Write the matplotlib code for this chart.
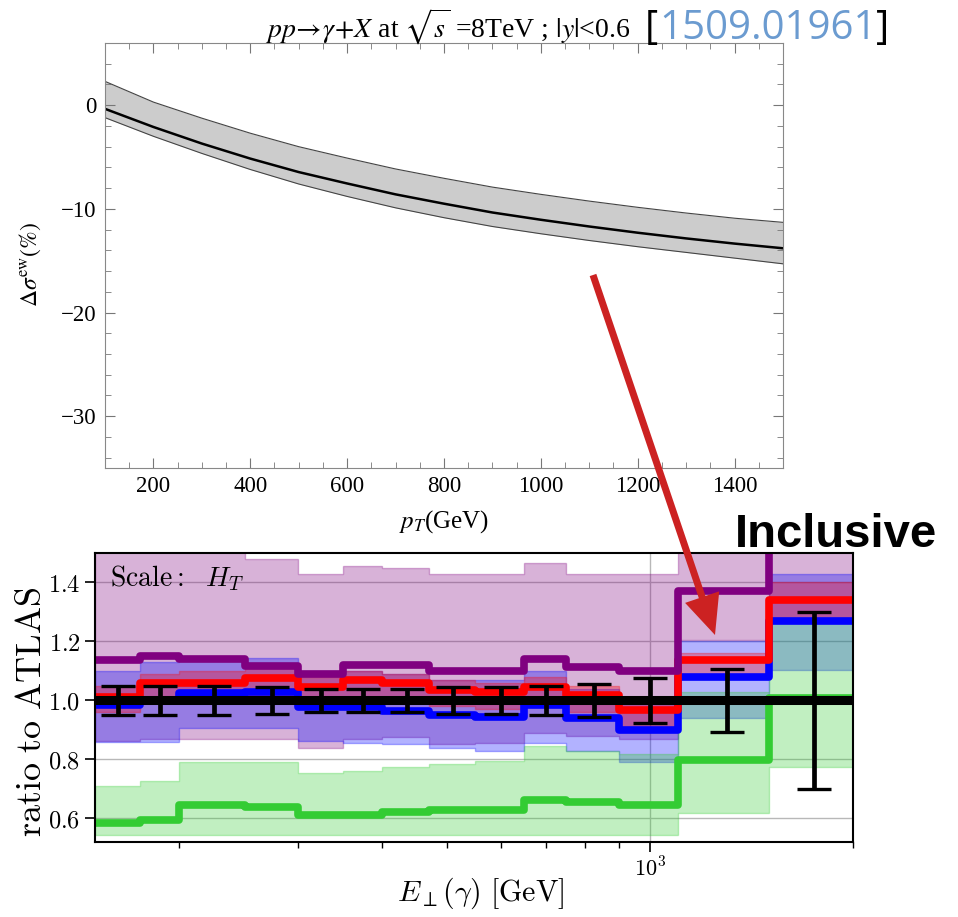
# EW correction to pp -> gamma + X (top) and ratio to ATLAS data (bottom)
import numpy as np
import matplotlib
matplotlib.use('Agg')
import matplotlib.pyplot as plt
from matplotlib.patches import FancyArrow
from matplotlib.ticker import MultipleLocator, FixedLocator, NullFormatter, FixedFormatter

plt.rcParams['mathtext.fontset'] = 'cm'

# ---- top panel: Delta sigma^ew (%) vs pT
pt = [100, 200, 300, 400, 500, 600, 700, 800, 900, 1000, 1100, 1200, 1300, 1400, 1500]
dsig = [-0.35, -2.1, -3.7, -5.15, -6.45, -7.55, -8.6, -9.5, -10.35, -11.05, -11.7, -12.3, -12.85, -13.35, -13.8]
dsig_hi = [2.3, 0.3, -1.25, -2.7, -4.0, -5.1, -6.15, -7.05, -7.9, -8.6, -9.25, -9.85, -10.4, -10.9, -11.3]
dsig_lo = [-1.2, -3.0, -4.65, -6.2, -7.6, -8.8, -9.9, -10.85, -11.7, -12.4, -13.05, -13.65, -14.2, -14.75, -15.3]

# ---- bottom panel: ratio to ATLAS in E_T(gamma) bins
edges = [150, 175, 200, 250, 300, 350, 400, 470, 550, 650, 750, 900, 1100, 1500, 2000]
purple = [1.137, 1.15, 1.14, 1.116, 1.09, 1.12, 1.12, 1.10, 1.10, 1.14, 1.113, 1.10, 1.372, 1.62]
purple_hi = [1.6, 1.6, 1.6, 1.48, 1.43, 1.455, 1.45, 1.43, 1.43, 1.465, 1.43, 1.427, 1.6, 1.6]
purple_lo = [0.863, 0.87, 0.87, 0.87, 0.84, 0.87, 0.877, 0.853, 0.857, 0.89, 0.88, 0.87, 1.205, 1.28]
red = [1.01, 1.058, 1.06, 1.075, 1.045, 1.068, 1.058, 1.035, 1.028, 1.045, 1.017, 0.966, 1.138, 1.342]
red_hi = [1.05, 1.09, 1.10, 1.11, 1.08, 1.10, 1.09, 1.07, 1.06, 1.08, 1.05, 1.00, 1.16, 1.40]
red_lo = [0.96, 1.00, 1.01, 1.02, 0.99, 1.01, 1.00, 0.98, 0.97, 0.99, 0.96, 0.91, 1.08, 1.27]
blue = [0.983, 1.0, 1.024, 1.028, 0.977, 0.977, 0.965, 0.95, 0.945, 0.983, 0.94, 0.90, 1.079, 1.27]
blue_hi = [1.10, 1.13, 1.145, 1.145, 1.10, 1.10, 1.09, 1.07, 1.07, 1.10, 1.04, 0.99, 1.20, 1.43]
blue_lo = [0.86, 0.86, 0.905, 0.905, 0.863, 0.857, 0.853, 0.84, 0.83, 0.855, 0.83, 0.79, 0.94, 1.104]
green = [0.583, 0.596, 0.644, 0.637, 0.61, 0.613, 0.62, 0.627, 0.63, 0.664, 0.655, 0.645, 0.797, 1.007]
green_hi = [0.71, 0.727, 0.79, 0.79, 0.755, 0.76, 0.774, 0.785, 0.795, 0.846, 0.83, 0.82, 1.027, 1.27]
green_lo = [0.545, 0.545, 0.545, 0.545, 0.545, 0.545, 0.545, 0.545, 0.545, 0.545, 0.545, 0.545, 0.617, 0.775]
atlas_err = [0.05, 0.05, 0.05, 0.045, 0.04, 0.04, 0.04, 0.045, 0.045, 0.05, 0.057, 0.075, 0.108, 0.30]

ratio_ticks = [0.6, 0.8, 1.0, 1.2, 1.4]
ratio_labels = ['$0.6$', '$0.8$', '$1.0$', '$1.2$', '$1.4$']

fig = plt.figure(figsize=(9.58, 9.17), dpi=100)

# ---------------- top panel (Mathematica look)
ax1 = fig.add_axes([0.1096, 0.4896, 0.7077, 0.4635])
ax1.fill_between(pt, dsig_lo, dsig_hi, color='#cccccc', lw=0)
ax1.plot(pt, dsig_hi, color='#444444', lw=0.8)
ax1.plot(pt, dsig_lo, color='#444444', lw=0.8)
ax1.plot(pt, dsig, color='k', lw=1.8)
ax1.set_xlim(100, 1500)
ax1.set_ylim(-35, 6)
ax1.xaxis.set_major_locator(MultipleLocator(200))
ax1.xaxis.set_minor_locator(MultipleLocator(50))
ax1.yaxis.set_major_locator(MultipleLocator(10))
ax1.yaxis.set_minor_locator(MultipleLocator(2))
ax1.tick_params(which='both', direction='in', top=True, right=True, color='#777777', labelsize=16.5)
ax1.tick_params(which='major', length=7, pad=6)
ax1.tick_params(which='minor', length=4)
for lab in ax1.get_xticklabels() + ax1.get_yticklabels():
    lab.set_family('Liberation Serif')
for sp in ax1.spines.values():
    sp.set_color('#888888')
ax1.set_ylabel(r'$\Delta\sigma^{\mathrm{ew}}(\%)$', fontsize=17, math_fontfamily='stix')
ax1.yaxis.set_label_coords(-0.092, 0.48)
ax1.set_xlabel(r'$p_T$(GeV)', fontsize=18, family='Liberation Serif', math_fontfamily='stix')
ax1.xaxis.set_label_coords(0.5, -0.095)

# title and reference
fig.text(265 / 958, 1 - 38 / 917,
         r'$pp\!\rightarrow\!\gamma\!+\!X$ at $\sqrt{s}$ =8TeV ; $|y|$<0.6',
         fontsize=20, family='Liberation Serif', math_fontfamily='stix', va='baseline')
fig.text(645 / 958, 1 - 39 / 917, '[', fontsize=29, family='Open Sans', va='baseline')
fig.text(659 / 958, 1 - 39 / 917, '1509.01961', fontsize=29, family='Open Sans',
         color='#6b9bd0', va='baseline')
fig.text(876 / 958, 1 - 39 / 917, ']', fontsize=29, family='Open Sans', va='baseline')

# ---------------- bottom panel (ratio plot)
ax2 = fig.add_axes([0.0992, 0.0818, 0.7912, 0.3152])
ax2.set_xscale('log')
ax2.grid(True, which='major', color='#b8b8b8', lw=1.0)
ax2.set_axisbelow(True)

ax2.stairs(purple_hi, edges, baseline=purple_lo, fill=True, facecolor='purple',
           edgecolor='purple', alpha=0.3, lw=1)
ax2.stairs(blue_hi, edges, baseline=blue_lo, fill=True, facecolor='blue',
           edgecolor='blue', alpha=0.3, lw=1)
ax2.stairs(red_hi, edges, baseline=red_lo, fill=True, facecolor='red',
           edgecolor='red', alpha=0.3, lw=1)
ax2.stairs(green_hi, edges, baseline=green_lo, fill=True, facecolor='limegreen',
           edgecolor='limegreen', alpha=0.3, lw=1)

ax2.stairs(green, edges, baseline=None, color='#33cc33', lw=5.5, joinstyle='round')
ax2.stairs(blue, edges, baseline=None, color='blue', lw=5.5, joinstyle='round')
ax2.stairs(red, edges, baseline=None, color='red', lw=5.5, joinstyle='round')
ax2.stairs(purple, edges, baseline=None, color='purple', lw=5.5, joinstyle='round')

ax2.axhline(1.0, color='k', lw=6.5)
centers = 0.5 * (np.array(edges[:-1]) + np.array(edges[1:]))
ax2.errorbar(centers, np.ones(len(centers)), yerr=atlas_err, fmt='none', ecolor='k',
             elinewidth=3.4, capsize=12, capthick=2.4)

ax2.set_xlim(150, 2000)
ax2.set_ylim(0.52, 1.5)
ax2.yaxis.set_major_locator(FixedLocator(ratio_ticks))
ax2.yaxis.set_major_formatter(FixedFormatter(ratio_labels))
ax2.xaxis.set_major_locator(FixedLocator([1000]))
ax2.xaxis.set_major_formatter(FixedFormatter([r'$10^3$']))
ax2.xaxis.set_minor_locator(FixedLocator([200, 300, 400, 500, 600, 700, 800, 900, 2000]))
ax2.xaxis.set_minor_formatter(NullFormatter())
ax2.tick_params(axis='y', which='major', labelsize=17.5, length=7, width=1.2)
ax2.tick_params(axis='x', which='major', labelsize=16, length=7, width=1.2)
ax2.tick_params(axis='x', which='minor', length=4, width=1)
for sp in ax2.spines.values():
    sp.set_linewidth(1.5)

ax2.text(0.02, 0.965, r'$\mathrm{Scale{:}}\ \ H_T$', transform=ax2.transAxes,
         fontsize=20, va='top')
ax2.set_ylabel(r'$\mathrm{ratio\ to\ ATLAS}$', fontsize=26)
ax2.yaxis.set_label_coords(-0.062, 0.45)
ax2.set_xlabel(r'$E_\perp(\gamma)\ \mathrm{[GeV]}$', fontsize=21.5)
ax2.xaxis.set_label_coords(0.509, -0.115)

# arrow and label linking the two panels
arrow = FancyArrow(5.93, 6.42, 1.22, -3.60, width=0.07, head_width=0.36, head_length=0.40,
                   length_includes_head=True, color='#cc2222', lw=0,
                   transform=fig.dpi_scale_trans)
fig.add_artist(arrow)
fig.text(735 / 958, 1 - 547 / 917, 'Inclusive', fontsize=34, weight='bold',
         family='Liberation Sans', va='baseline')

fig.savefig('out.png', dpi=100)
